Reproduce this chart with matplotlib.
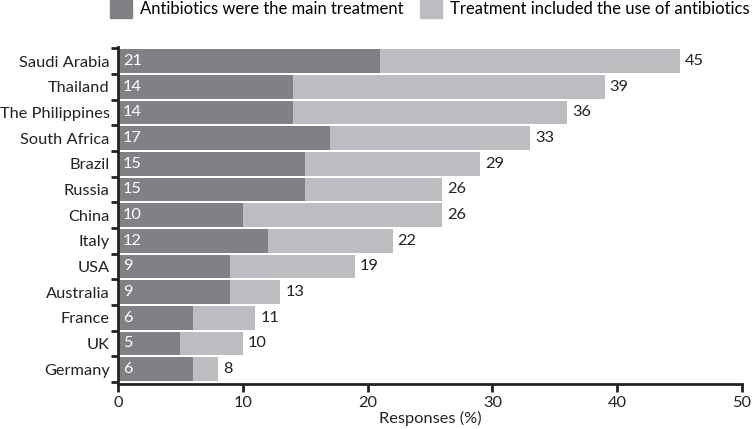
import numpy as np
import matplotlib
matplotlib.use("Agg")
import matplotlib.pyplot as plt
from matplotlib.patches import Patch

countries = ["Saudi Arabia", "Thailand", "The Philippines", "South Africa", "Brazil",
             "Russia", "China", "Italy", "USA", "Australia", "France", "UK", "Germany"]
main_treatment = [21, 14, 14, 17, 15, 15, 10, 12, 9, 9, 6, 5, 6]
included_use = [45, 39, 36, 33, 29, 26, 26, 22, 19, 13, 11, 10, 8]

dark = "#818185"
light = "#bdbdc1"
ink = "#222222"
fs = 11.8
plt.rcParams["font.family"] = ["Lato", "DejaVu Sans"]
plt.rcParams["font.size"] = fs

fig = plt.figure(figsize=(7.53, 4.29), dpi=100)
ax = fig.add_axes([0.1567, 0.105, 0.8287, 0.7854])

y = np.arange(len(countries))
ax.barh(y, included_use, height=0.92, color=light)
ax.barh(y, main_treatment, height=0.92, color=dark)

for yi, m, t in zip(y, main_treatment, included_use):
    ax.text(0.4, yi, str(m), va="center", ha="left", color="white", fontsize=fs)
    ax.text(t + 0.4, yi, str(t), va="center", ha="left", color=ink, fontsize=fs)

ax.set_xlim(0, 50)
ax.set_ylim(12.58, -0.55)
ax.set_xticks([0, 10, 20, 30, 40, 50])
ax.set_yticks(y)
ax.set_yticklabels(countries)
ax.set_yticks(np.arange(-0.5, 13, 1), minor=True)
ax.tick_params(axis="y", which="major", length=0, pad=6, labelcolor=ink)
ax.tick_params(axis="y", which="minor", length=5, width=2, color=ink)
ax.tick_params(axis="x", length=6, width=2, color=ink, labelcolor=ink, pad=3)
for side in ["top", "right"]:
    ax.spines[side].set_visible(False)
for side in ["left", "bottom"]:
    ax.spines[side].set_linewidth(2)
    ax.spines[side].set_color(ink)
ax.set_xlabel("Responses (%)", color=ink, labelpad=0)

handles = [Patch(color=dark, label="Antibiotics were the main treatment"),
           Patch(color=light, label="Treatment included the use of antibiotics")]
fig.legend(handles=handles, ncol=2, loc="upper right", bbox_to_anchor=(750 / 753, 1.0),
           frameon=False, borderpad=0, borderaxespad=0,
           handlelength=1.3, handleheight=1.25, handletextpad=0.5,
           columnspacing=1.0, fontsize=12)

fig.savefig("out.png", dpi=100)
